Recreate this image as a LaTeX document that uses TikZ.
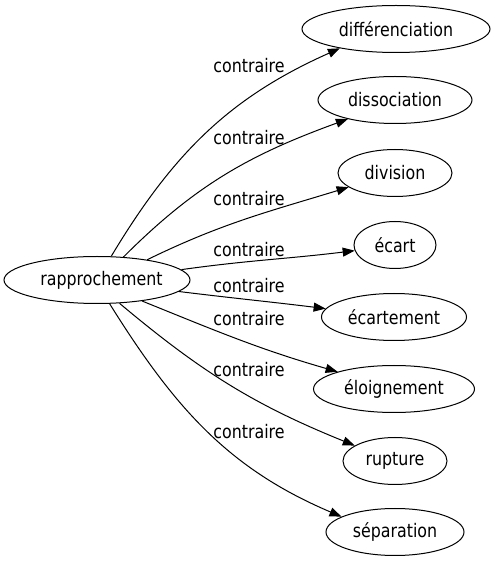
\documentclass[tikz,border=0pt]{standalone}
\usepackage{fontspec}
\setmainfont{DejaVu Sans}[FakeStretch=0.85]
\usetikzlibrary{arrows.meta,shapes.geometric}
\begin{document}
\begin{tikzpicture}[x=1pt,y=1pt,
  nd/.style={draw, ellipse, inner sep=0pt, line width=1pt, minimum height=47pt, font=\fontsize{18.67}{20}\selectfont},
  lbl/.style={font=\fontsize{18.67}{20}\selectfont, inner sep=0pt},
  edge/.style={line width=1pt, -{Triangle[length=12pt,width=9pt]}}]
\useasboundingbox (0,0) rectangle (492,563);
\node[nd, minimum width=186pt, minimum height=47pt] (r) at (97,283) {\hspace*{9pt}rapprochement};
\node[nd, minimum width=188pt] (d1) at (396,534) {différenciation};
\node[nd, minimum width=154pt] (d2) at (395,463) {dissociation};
\node[nd, minimum width=114pt] (d3) at (395,390) {division};
\node[nd, minimum width=82pt] (d4) at (395,318) {écart};
\node[nd, minimum width=145pt] (d5) at (394,246) {écartement};
\node[nd, minimum width=161pt] (d6) at (394,174) {éloignement};
\node[nd, minimum width=104pt] (d7) at (395,102) {rupture};
\node[nd, minimum width=138pt] (d8) at (395,31) {séparation};
\draw[edge] (r.59) to[out=59,in=204] (d1.199);
\draw[edge] (r.41) to[out=45,in=200] (d2.202);
\draw[edge] (r.22) to[out=26,in=197] (d3.197);
\draw[edge] (r.7) to[out=8,in=187] (d4.188);
\draw[edge] (r.-8) to[out=-7,in=173] (d5.173);
\draw[edge] (r.-25) to[out=-22,in=164] (d6.163);
\draw[edge] (r.-46) to[out=-40,in=158] (d7.159);
\draw[edge] (r.-62) to[out=-58,in=157] (d8.164);
\node[lbl] (c1) at (249,497) {contraire};
\node[lbl] (c2) at (249,425) {contraire};
\node[lbl] (c3) at (249,364) {contraire};
\node[lbl] (c4) at (249,313) {contraire};
\node[lbl] (c5) at (249,277) {contraire};
\node[lbl] (c6) at (249,244) {contraire};
\node[lbl] (c7) at (249,193) {contraire};
\node[lbl] (c8) at (249,131) {contraire};
\end{tikzpicture}
\end{document}
